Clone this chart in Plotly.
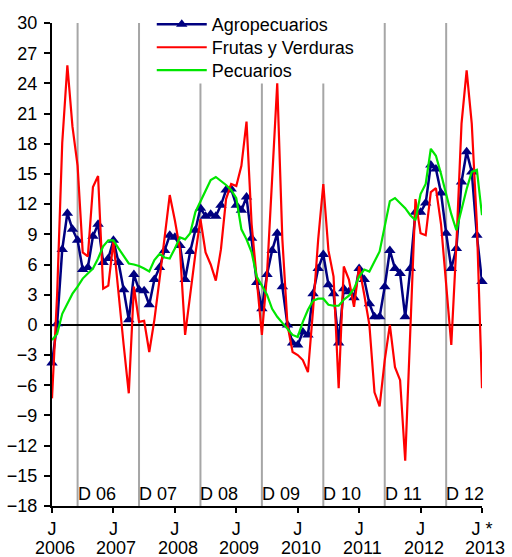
import plotly.graph_objects as go

# ---- data (monthly, Jul-2006 .. Jul-2013) ----
agro = [-3.8, 0.1, 7.5, 11.1, 9.5, 8.4, 5.5, 5.7, 8.8, 10.0,
        6.2, 6.6, 8.4, 6.2, 3.5, 0.5, 5.0, 3.5, 3.4, 2.0,
        4.5, 5.7, 7.4, 8.9, 8.7, 7.9, 4.5, 7.3, 9.4, 11.6,
        10.8, 11.0, 10.8, 11.9, 13.4, 13.5, 11.9, 11.4, 12.7, 8.6,
        4.2, 1.6, 5.0, 7.4, 9.1, 3.8, 0.0, -1.8, -2.0, -0.7,
        -1.0, 3.1, 5.6, 7.0, 4.0, 3.1, -1.8, 3.6, 3.3, 2.7,
        5.6, 4.5, 2.1, 0.8, 0.8, 3.8, 7.4, 5.6, 5.1, 0.8,
        5.6, 11.2, 11.2, 12.1, 15.9, 15.5, 13.1, 9.1, 5.6, 7.6,
        14.2, 17.2, 15.2, 8.9, 4.3]

frutas = [-7.3, 3.0, 18.1, 25.8, 19.7, 15.8, 7.2, 6.8, 13.7, 14.8,
          3.6, 3.9, 8.3, 3.0, -2.0, -6.8, 3.8, 0.3, 0.4, -2.7,
          0.5, 4.5, 8.5, 12.9, 10.4, 7.5, -1.0, 3.3, 7.0, 10.5,
          7.2, 6.0, 4.4, 7.5, 12.5, 14.0, 13.8, 15.8, 20.2, 10.0,
          4.8, -1.0, 5.0, 14.5, 24.0, 8.5, 0.0, -2.7, -3.0, -3.5,
          -4.7, 1.5, 8.5, 14.0, 7.4, 4.8, -6.3, 5.8, 4.5, 1.8,
          5.8, 3.0, 0.0, -6.7, -8.1, -3.5, 0.0, -4.2, -5.5, -13.5,
          0.0, 12.5, 9.1, 8.9, 13.2, 13.6, 10.0, 4.0, -2.0, 8.0,
          20.0, 25.3, 20.0, 10.0, -6.3]

pecuarios = [-1.5, -0.9, 1.1, 2.1, 3.1, 3.8, 4.6, 5.1, 5.6, 6.6,
             7.8, 8.4, 8.4, 7.6, 6.9, 6.1, 6.0, 5.85, 5.6, 5.3,
             6.45, 7.05, 6.7, 6.6, 7.6, 8.7, 8.5, 9.1, 11.2, 12.3,
             13.3, 14.4, 14.7, 14.3, 13.9, 13.4, 12.6, 9.5, 8.5, 7.2,
             4.8, 3.9, 3.0, 1.6, 0.8, 0.2, -0.4, -1.0, -1.2, 0.3,
             1.5, 2.4, 2.6, 2.6, 2.0, 1.9, 1.9, 2.5, 2.9, 3.6,
             4.8, 5.5, 5.3, 6.3, 7.3, 9.8, 12.3, 12.6, 12.1, 11.6,
             10.9, 10.4, 13.0, 14.0, 17.5, 16.8, 15.0, 13.0, 11.0, 9.4,
             11.5, 13.5, 15.2, 15.4, 10.9]

tick_pos = [0, 12, 24, 36, 48, 60, 72, 84]
tick_text = ["J", "J", "J", "J", "J", "J", "J", "J *"]
year_labels = ["2006", "2007", "2008", "2009", "2010", "2011", "2012", "2013"]
dec_pos = [5, 17, 29, 41, 53, 65, 77]
dec_labels = ["D 06", "D 07", "D 08", "D 09", "D 10", "D 11", "D 12"]
dec_top = [30, 30, 24, 24, 24, 30, 30]

x = list(range(len(agro)))
FONT = "Liberation Sans, Arial, sans-serif"
FS = 18

fig = go.Figure()
fig.add_trace(go.Scatter(x=x, y=agro, name="Agropecuarios", mode="lines+markers",
                         line=dict(color="#000080", width=2.5),
                         marker=dict(symbol="triangle-up", size=10, color="#000080"),
                         cliponaxis=False, legend="legend"))
fig.add_trace(go.Scatter(x=x, y=frutas, name="Frutas y Verduras", mode="lines",
                         line=dict(color="#FF0000", width=2.2), cliponaxis=False,
                         legend="legend2"))
fig.add_trace(go.Scatter(x=x, y=pecuarios, name="Pecuarios", mode="lines",
                         line=dict(color="#00E600", width=2.2), cliponaxis=False,
                         legend="legend3"))

shapes = []
annotations = []
for p, lab, top in zip(dec_pos, dec_labels, dec_top):
    shapes.append(dict(type="line", xref="x", yref="y", x0=p, x1=p, y0=-18, y1=top,
                       line=dict(color="#A6A6A6", width=2), layer="below"))
    annotations.append(dict(x=p, y=-18, xref="x", yref="y", text=lab, showarrow=False,
                            xanchor="left", yanchor="bottom", xshift=-2, yshift=0,
                            font=dict(family=FONT, size=FS, color="black")))
for p, yr in zip(tick_pos, year_labels):
    annotations.append(dict(x=p, y=-18, xref="x", yref="y", text=yr, showarrow=False,
                            xanchor="center", yanchor="middle", xshift=3, yshift=-42,
                            borderpad=0,
                            font=dict(family=FONT, size=FS, color="black")))
shapes.append(dict(type="line", xref="x", yref="y", x0=0, x1=84, y0=0, y1=0,
                   line=dict(color="black", width=2), layer="below"))

leg_common = dict(x=0.232, xanchor="left", yanchor="top",
                  bgcolor="rgba(0,0,0,0)", borderwidth=0, itemwidth=50,
                  font=dict(family=FONT, size=FS, color="black"))

fig.update_layout(
    width=512, height=557,
    margin=dict(l=52, r=30, t=23, b=51, autoexpand=False),
    paper_bgcolor="white", plot_bgcolor="white",
    font=dict(family=FONT, size=FS, color="black"),
    showlegend=True,
    legend=dict(y=1.035, **leg_common),
    legend2=dict(y=0.9875, **leg_common),
    legend3=dict(y=0.940, **leg_common),
    shapes=shapes,
    annotations=annotations,
    xaxis=dict(range=[0, 84], tickmode="array", tickvals=tick_pos, ticktext=tick_text,
               showgrid=False, zeroline=False, showline=True, linecolor="black",
               linewidth=2, ticks="outside", ticklen=5, tickwidth=2, tickcolor="black",
               tickangle=0, automargin=False, ticklabelstandoff=0,
               tickfont=dict(family=FONT, size=FS)),
    yaxis=dict(range=[-18, 30], tickmode="array", tickvals=list(range(-18, 31, 3)),
               showgrid=False, zeroline=False, showline=True, linecolor="black",
               linewidth=2, ticks="outside", ticklen=6, tickwidth=2, tickcolor="black",
               automargin=False, ticklabelstandoff=3,
               tickfont=dict(family=FONT, size=FS)),
)

fig.write_html("out.html", config={"displayModeBar": False},
               post_script="document.body.style.margin='0px';document.body.style.overflow='hidden';")
